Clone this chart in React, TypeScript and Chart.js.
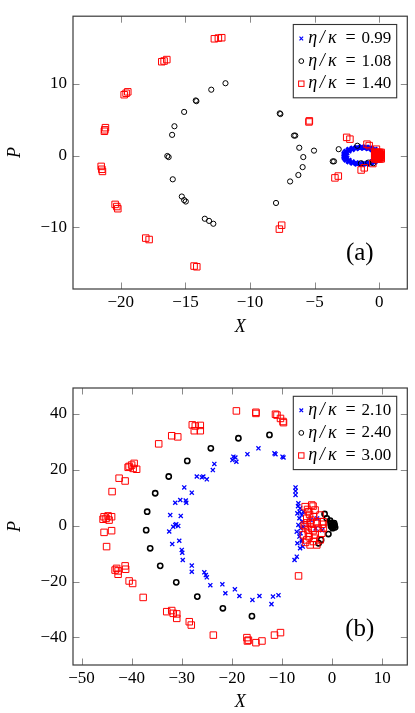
import React, { useEffect, useRef } from "react";
import { Chart, registerables } from "chart.js";
Chart.register(...registerables);

type Pt = [number, number];

// ---------- Panel (a) ----------
const xTicksA = [-20, -15, -10, -5, 0];
const yTicksA = [-10, 0, 10];
const xRangeA: [number, number] = [-23.7, 2.17];
const yRangeA: [number, number] = [-18.6, 19.45];
const legendA = ["0.99", "1.08", "1.40"];

const blueA: Pt[] = [
  [0.07, 0], [0.02, 0.31], [-0.12, 0.6], [-0.34, 0.85], [-0.63, 1.04], [-0.97, 1.16],
  [-1.33, 1.2], [-1.69, 1.16], [-2.03, 1.04], [-2.32, 0.85], [-2.54, 0.6], [-2.68, 0.31],
  [-2.73, 0], [-2.68, -0.31], [-2.54, -0.6], [-2.32, -0.85], [-2.03, -1.04], [-1.69, -1.16],
  [-1.33, -1.2], [-0.97, -1.16], [-0.63, -1.04], [-0.34, -0.85], [-0.12, -0.6], [0.02, -0.31],
  [-0.06, 0.14], [-0.15, 0.41], [-0.32, 0.66], [-0.55, 0.86], [-0.84, 1.0], [-1.16, 1.07],
  [-1.5, 1.07], [-1.82, 1.0], [-2.11, 0.86], [-2.35, 0.66], [-2.51, 0.41], [-2.6, 0.14],
  [-2.6, -0.14], [-2.51, -0.41], [-2.35, -0.66], [-2.11, -0.86], [-1.82, -1.0], [-1.5, -1.07],
  [-1.16, -1.07], [-0.84, -1.0], [-0.55, -0.86], [-0.32, -0.66], [-0.15, -0.41], [-0.06, -0.14],
  [-0.2, 0.5], [-0.45, 0.78], [-0.75, 1.05], [-1.05, 1.15], [-1.4, 1.18], [-1.75, 1.12],
  [-2.1, 0.98], [-2.4, 0.75], [-2.62, 0.48], [-2.72, 0.2], [-2.72, -0.2], [-2.62, -0.48],
  [-2.4, -0.75], [-2.1, -0.98], [-1.75, -1.12], [-1.4, -1.18], [-1.05, -1.15], [-0.75, -1.05],
  [-0.45, -0.78], [-0.2, -0.5],
];

const blackA: Pt[] = [
  [-11.9, 10.1], [-13.0, 9.2], [-14.2, 7.7], [-14.15, 7.6], [-15.1, 6.1], [-15.85, 4.1],
  [-16.03, 2.9], [-16.4, -0.05], [-16.3, -0.2], [-15.98, -3.3], [-15.28, -5.7], [-15.1, -6.2],
  [-14.97, -6.4], [-13.5, -8.8], [-13.17, -9.1], [-12.84, -9.5], [-7.99, -6.6], [-6.9, -3.6],
  [-6.26, -2.7], [-5.93, -1.6], [-5.88, -0.2], [-6.19, 1.1], [-6.6, 2.8], [-6.5, 2.8],
  [-7.7, 5.9], [-7.65, 5.8], [-5.05, 0.7], [-3.6, -0.8], [-3.5, -0.8], [-3.14, 0.9],
  [-1.7, 1.38], [-1.42, -1.06], [-0.85, -0.97], [-0.46, -1.06], [-0.3, 0.4], [0.1, -0.2],
];

const redA: Pt[] = [
  [-12.76, 16.3], [-12.45, 16.4], [-12.19, 16.45], [-16.83, 13.1], [-16.65, 13.2], [-16.44, 13.4],
  [-19.74, 8.5], [-19.59, 8.7], [-19.46, 8.9], [-21.27, 3.4], [-21.19, 3.9], [-21.24, 3.6],
  [-21.52, -1.5], [-21.47, -1.9], [-21.42, -2.2], [-20.44, -6.8], [-20.31, -7.1], [-20.23, -7.4],
  [-18.07, -11.5], [-17.81, -11.7], [-14.33, -15.4], [-14.12, -15.5], [-7.73, -10.25], [-7.55, -9.7],
  [-3.43, -3.1], [-3.17, -2.85], [-5.44, 4.7], [-5.41, 4.85], [-2.52, 2.55], [-2.27, 2.3],
  [-0.95, 1.6], [-0.78, 1.4], [-1.4, -2.0], [-1.16, -1.7], [-0.5, -1.1], [-0.22, 0.9],
  [-0.35, -0.45], [-0.25, -0.45], [-0.15, -0.45], [-0.05, -0.45], [0.05, -0.45], [0.15, -0.45],
  [-0.35, -0.2], [-0.25, -0.2], [-0.15, -0.2], [-0.05, -0.2], [0.05, -0.2], [0.15, -0.2],
  [-0.35, 0.0], [-0.25, 0.0], [-0.15, 0.0], [-0.05, 0.0], [0.05, 0.0], [0.15, 0.0],
  [-0.35, 0.2], [-0.25, 0.2], [-0.15, 0.2], [-0.05, 0.2], [0.05, 0.2], [0.15, 0.2],
  [-0.35, 0.45], [-0.25, 0.45], [-0.15, 0.45], [-0.05, 0.45], [0.05, 0.45], [0.15, 0.45],
  [-0.3, 0.1], [-0.1, -0.1], [0.1, 0.1], [-0.2, 0.32], [-0.2, -0.32], [0.0, 0.32], [0.0, -0.32],
];

// ---------- Panel (b) ----------
const xTicksB = [-50, -40, -30, -20, -10, 0, 10];
const yTicksB = [-40, -20, 0, 20, 40];
const xRangeB: [number, number] = [-51.7, 15.0];
const yRangeB: [number, number] = [-49.9, 49.3];
const legendB = ["2.10", "2.40", "3.00"];

const blueB: Pt[] = [
  [-14.7, 27.7], [-16.9, 25.6], [-19.9, 23.5], [-19.3, 24.4], [-19.7, 24.7], [-19.1, 22.9],
  [-11.5, 25.9], [-11.3, 25.6], [-9.9, 24.7], [-9.7, 24.4], [-23.5, 22.1], [-23.8, 19.9],
  [-27.0, 17.6], [-26.0, 17.3], [-25.7, 17.6], [-25.0, 16.6], [-29.5, 13.7], [-28.0, 11.8],
  [-31.3, 8.2], [-30.3, 9.2], [-29.2, 9.0], [-29.1, 8.2], [-32.3, 3.8], [-30.2, 3.5],
  [-31.3, 0.2], [-31.7, -0.4], [-30.7, -0.1], [-31.1, 0.5], [-32.5, -2.1], [-31.9, -6.6],
  [-30.5, -5.4], [-30.0, -8.7], [-29.9, -9.7], [-29.8, -12.3], [-28.0, -14.3], [-28.0, -16.5],
  [-25.5, -16.7], [-25.2, -17.7], [-25.0, -18.5], [-24.3, -21.3], [-21.9, -21.0], [-21.3, -24.2],
  [-19.4, -22.8], [-18.5, -25.2], [-15.9, -26.6], [-14.5, -25.2], [-12.1, -28.1], [-11.8, -25.4],
  [-10.7, -24.9], [-7.3, 13.7], [-7.3, 12.4], [-7.3, 11.0], [-7.5, -12.3], [-7.05, -11.1],
  [-6.73, 8.0], [-6.39, 6.2], [-6.93, 4.4], [-6.53, 2.65], [-6.06, 3.8], [-6.73, 0.25],
  [-6.26, -0.95], [-7.06, -2.15], [-6.53, -3.9], [-6.06, -5.7], [-6.93, -6.3], [-6.39, -8.1],
  [-5.86, -7.5], [-5.73, -0.35], [-5.73, 5.0], [-6.8, 7.0], [-6.5, 5.0], [-6.0, 1.5],
  [-6.3, -2.7], [-6.0, -5.1], [-4.3, 2.0], [-3.3, -1.0], [-2.0, -1.6], [-3.0, 2.6],
];

const blackB: Pt[] = [
  [-12.5, 32.5], [-18.7, 31.3], [-24.2, 27.7], [-28.9, 23.2], [-32.6, 17.6], [-35.3, 11.6],
  [-36.9, 5.0], [-37.1, -1.6], [-36.3, -8.1], [-34.3, -14.4], [-31.1, -20.3], [-26.9, -25.4],
  [-21.8, -29.6], [-16.0, -32.4], [-1.5, 4.2], [-1.06, 2.6], [-0.4, 1.8], [-0.74, -3.0],
  [-2.2, -5.1], [-2.7, -6.3], [-0.2, 1.0], [0, 0], [0.2, 0.5], [0.3, -0.4], [-0.2, -0.3],
  [0.5, 0.2], [0.1, -0.9], [-0.3, 0.6], [0.6, -0.6], [0.4, 0.9],
];

const redB: Pt[] = [
  [-19.1, 41.1], [-15.2, 40.2], [-15.2, 40.6], [-11.3, 39.9], [-11.0, 39.6], [-10.3, 38.4],
  [-9.8, 37.3], [-9.7, 36.9], [-27.9, 36.1], [-27.3, 35.7], [-26.3, 35.9], [-27.5, 34.0],
  [-26.3, 34.0], [-32.0, 32.2], [-30.8, 31.8], [-34.6, 29.3], [-40.7, 20.9], [-40.0, 21.7],
  [-39.5, 22.3], [-39.7, 20.5], [-39.0, 20.2], [-40.5, 21.2], [-42.5, 17.0], [-41.3, 16.0],
  [-43.9, 12.2], [-45.7, 2.3], [-45.1, 2.6], [-44.7, 3.5], [-44.0, 3.2], [-44.5, 2.0],
  [-45.5, 3.2], [-45.5, -2.4], [-44.0, -1.8], [-45.0, -7.5], [-43.0, -15.3], [-42.7, -16.2],
  [-42.7, -17.4], [-43.3, -15.9], [-41.3, -14.4], [-41.2, -15.6], [-40.5, -19.8], [-39.8, -20.7],
  [-37.7, -25.7], [-33.0, -30.8], [-32.0, -30.4], [-31.7, -31.4], [-31.0, -31.6], [-31.0, -33.2],
  [-28.5, -34.4], [-28.1, -35.6], [-23.7, -39.2], [-17.0, -40.1], [-16.7, -41.0], [-16.9, -41.3],
  [-15.2, -41.9], [-14.0, -41.3], [-11.5, -39.2], [-10.3, -38.3], [-6.7, -18.0],
  [-5.39, 6.8], [-4.06, 7.4], [-4.73, 5.0], [-3.4, 5.6], [-5.06, 2.65], [-3.73, 3.2],
  [-2.4, 3.8], [-4.39, 0.85], [-3.06, 1.4], [-1.74, 1.4], [-5.39, -0.35], [-4.06, -0.95],
  [-2.74, -0.95], [-4.73, -2.7], [-3.4, -3.3], [-2.07, -2.7], [-5.06, -5.1], [-3.73, -5.7],
  [-2.4, -5.1], [-4.39, -6.9], [-3.06, -6.9], [-5.73, -3.3], [-1.74, -0.95], [-3.0, 0.8],
  [-2.0, 0.5], [-3.8, 7.0], [-4.5, 4.0], [-4.8, -1.5], [-4.2, 2.0], [-5.0, 1.0],
  [-4.6, -4.0], [-3.8, -1.8], [-4.9, 5.8], [-5.6, 0.2], [-5.3, -6.0], [-3.5, -4.5],
];

const SERIF = "'Liberation Serif', serif";
const BLUE = "#0000ff";
const RED = "#ff0000";
const BLACK = "#000000";

type PanelProps = {
  top: number;
  height: number;
  padTop: number;
  xAxisH: number;
  xTitlePad: number;
  xTicks: number[];
  yTicks: number[];
  xRange: [number, number];
  yRange: [number, number];
  legend: string[];
  blue: Pt[];
  black: Pt[];
  red: Pt[];
  tag: string;
  circleW: number;
  blueR: number;
  blueW: number;
};

const fmt = (v: number) => (v < 0 ? "\u2212" + Math.abs(v) : String(v));

function Panel(p: PanelProps) {
  const ref = useRef<HTMLCanvasElement | null>(null);
  useEffect(() => {
    if (!ref.current) return;
    const deco = {
      id: "deco",
      beforeDatasetsDraw(chart: any) {
        const { ctx, chartArea: a, scales } = chart;
        ctx.save();
        ctx.strokeStyle = "#8a8a8a";
        ctx.lineWidth = 1;
        const tl = 6.5;
        ctx.beginPath();
        for (const v of p.xTicks) {
          const x = Math.round(scales.x.getPixelForValue(v)) + 0.5;
          ctx.moveTo(x, a.bottom);
          ctx.lineTo(x, a.bottom - tl);
          ctx.moveTo(x, a.top);
          ctx.lineTo(x, a.top + tl);
        }
        for (const v of p.yTicks) {
          const y = Math.round(scales.y.getPixelForValue(v)) + 0.5;
          ctx.moveTo(a.left, y);
          ctx.lineTo(a.left + tl, y);
          ctx.moveTo(a.right, y);
          ctx.lineTo(a.right - tl, y);
        }
        ctx.stroke();
        ctx.restore();
      },
      afterDraw(chart: any) {
        const { ctx, chartArea: a } = chart;
        ctx.save();
        ctx.strokeStyle = "#3a3a3a";
        ctx.lineWidth = 1.2;
        ctx.strokeRect(a.left, a.top, a.right - a.left, a.bottom - a.top);
        const bl = a.left + 220.3;
        const bt = a.top + 8.3;
        const bw = a.right - 10.6 - bl;
        const bh = 73.3;
        ctx.fillStyle = "#fff";
        ctx.fillRect(bl, bt, bw, bh);
        ctx.strokeStyle = "#333";
        ctx.lineWidth = 1.1;
        ctx.strokeRect(bl, bt, bw, bh);
        const rows = [14, 36.6, 59.2];
        const mx = bl + 8;
        rows.forEach((dy, i) => {
          const y = bt + dy;
          ctx.lineWidth = 1;
          if (i === 0) {
            ctx.strokeStyle = BLUE;
            ctx.lineWidth = 1.2;
            ctx.beginPath();
            ctx.moveTo(mx - 1.8, y - 1.8);
            ctx.lineTo(mx + 1.8, y + 1.8);
            ctx.moveTo(mx - 1.8, y + 1.8);
            ctx.lineTo(mx + 1.8, y - 1.8);
            ctx.stroke();
          } else if (i === 1) {
            ctx.strokeStyle = BLACK;
            ctx.beginPath();
            ctx.arc(mx, y, 2.4, 0, Math.PI * 2);
            ctx.stroke();
          } else {
            ctx.strokeStyle = RED;
            ctx.strokeRect(mx - 2.7, y - 2.7, 5.4, 5.4);
          }
          ctx.fillStyle = "#000";
          ctx.textBaseline = "middle";
          ctx.textAlign = "center";
          ctx.font = `italic 18px ${SERIF}`;
          ctx.fillText("\u03b7", bl + 19.3, y);
          ctx.fillText("/", bl + 29.0, y);
          ctx.fillText("\u03ba", bl + 39.0, y);
          ctx.font = `18px ${SERIF}`;
          ctx.fillText("=", bl + 57.2, y);
          ctx.textAlign = "left";
          ctx.font = `17px ${SERIF}`;
          ctx.fillText(p.legend[i], bl + 68.2, y);
        });
        ctx.font = `25px ${SERIF}`;
        ctx.textAlign = "center";
        ctx.textBaseline = "middle";
        ctx.fillStyle = "#000";
        ctx.fillText(p.tag, a.right - 47.5, a.bottom - 36);
        ctx.restore();
      },
    };

    const mk = (pts: Pt[]) => pts.map(([x, y]) => ({ x, y }));
    const chart = new Chart(ref.current, {
      type: "scatter",
      data: {
        datasets: [
          {
            label: "red",
            data: mk(p.red),
            pointStyle: "rect",
            pointRadius: 4.6,
            pointBorderWidth: 1,
            borderColor: RED,
            backgroundColor: "rgba(0,0,0,0)",
            order: 1,
          },
          {
            label: "black",
            data: mk(p.black),
            pointStyle: "circle",
            pointRadius: 2.6,
            pointBorderWidth: p.circleW,
            borderColor: BLACK,
            backgroundColor: "rgba(0,0,0,0)",
            order: 2,
          },
          {
            label: "blue",
            data: mk(p.blue),
            pointStyle: "crossRot",
            pointRadius: p.blueR,
            pointBorderWidth: p.blueW,
            borderColor: BLUE,
            backgroundColor: BLUE,
            order: 3,
          },
        ],
      },
      options: {
        animation: false,
        responsive: false,
        devicePixelRatio: 1,
        layout: { padding: { top: p.padTop, right: 7.7, left: 0, bottom: 0 } },
        plugins: { legend: { display: false }, tooltip: { enabled: false } },
        scales: {
          x: {
            type: "linear",
            min: p.xRange[0],
            max: p.xRange[1],
            grid: { display: false, drawTicks: false },
            border: { display: false },
            afterBuildTicks: (s: any) => {
              s.ticks = p.xTicks.map((v) => ({ value: v }));
            },
            afterFit: (s: any) => {
              s.height = p.xAxisH;
            },
            ticks: {
              padding: 3.5,
              color: "#000",
              font: { family: SERIF, size: 17 },
              maxRotation: 0,
              callback: (v: any) => fmt(Number(v)),
            },
            title: {
              display: true,
              text: "X",
              color: "#000",
              font: { family: SERIF, size: 18, style: "italic" },
              padding: { top: 0, bottom: p.xTitlePad },
            },
          },
          y: {
            type: "linear",
            min: p.yRange[0],
            max: p.yRange[1],
            grid: { display: false, drawTicks: false },
            border: { display: false },
            afterBuildTicks: (s: any) => {
              s.ticks = p.yTicks.map((v) => ({ value: v }));
            },
            afterFit: (s: any) => {
              s.width = 73;
            },
            ticks: {
              padding: 6,
              color: "#000",
              font: { family: SERIF, size: 17 },
              callback: (v: any) => fmt(Number(v)),
            },
            title: {
              display: true,
              text: "P",
              color: "#000",
              font: { family: SERIF, size: 18, style: "italic" },
              padding: { top: 4.2, bottom: 0 },
            },
          },
        },
      },
      plugins: [deco],
    } as any);
    return () => chart.destroy();
  }, []);
  return (
    <canvas
      ref={ref}
      width={415}
      height={p.height}
      style={{ position: "absolute", left: 0, top: p.top, width: 415, height: p.height }}
    />
  );
}

export default function App() {
  return (
    <div style={{ position: "absolute", left: 0, top: 0, width: 415, height: 713, background: "#fff" }}>
      <Panel
        top={0}
        height={345}
        padTop={13}
        xAxisH={56}
        xTitlePad={6.5}
        xTicks={xTicksA}
        yTicks={yTicksA}
        xRange={xRangeA}
        yRange={yRangeA}
        legend={legendA}
        blue={blueA}
        black={blackA}
        red={redA}
        tag="(a)"
        circleW={1}
        blueR={3.3}
        blueW={1.7}
      />
      <Panel
        top={345}
        height={368}
        padTop={43}
        xAxisH={48}
        xTitlePad={0}
        xTicks={xTicksB}
        yTicks={yTicksB}
        xRange={xRangeB}
        yRange={yRangeB}
        legend={legendB}
        blue={blueB}
        black={blackB}
        red={redB}
        tag="(b)"
        circleW={1.6}
        blueR={2.9}
        blueW={1.3}
      />
    </div>
  );
}
